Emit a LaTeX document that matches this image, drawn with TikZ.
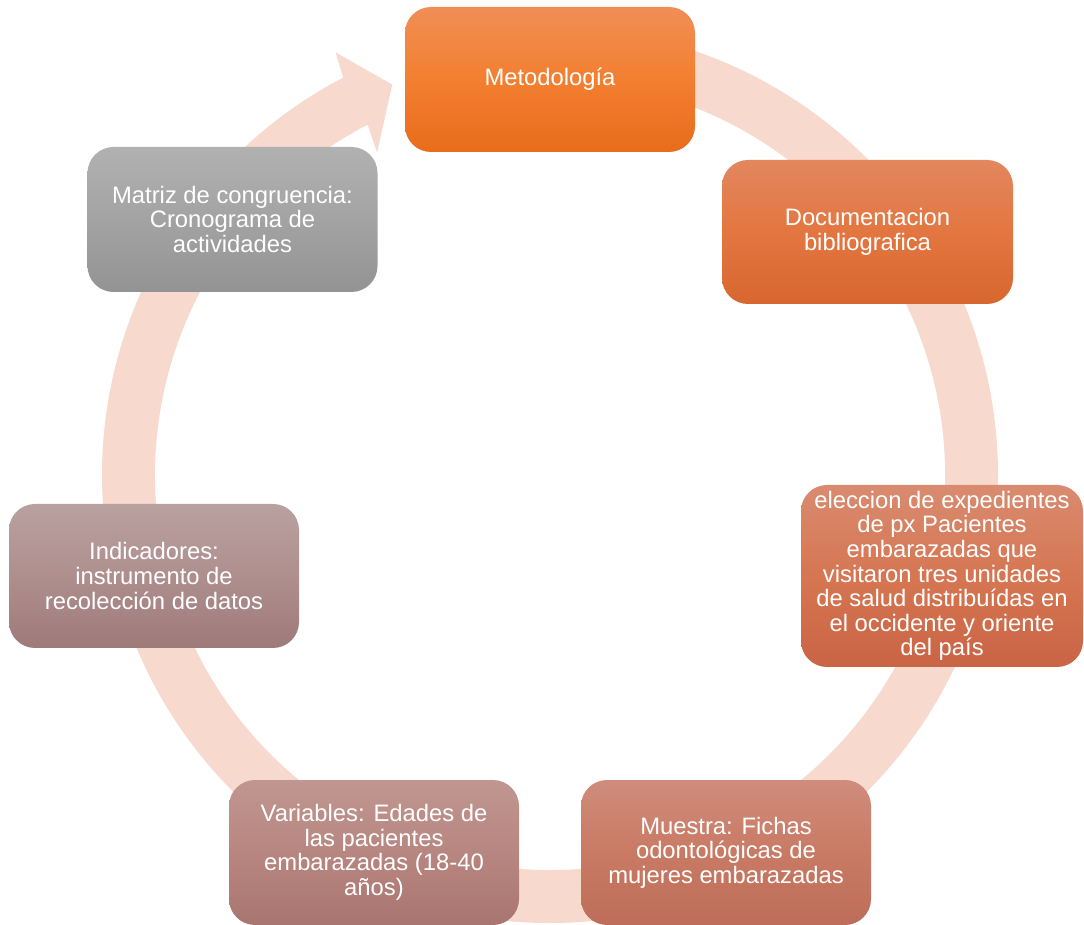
\documentclass[tikz,border=0pt]{standalone}
\usepackage{fontspec}
\setmainfont{Liberation Sans}
\usetikzlibrary{calc}
\definecolor{ringc}{RGB}{248,217,206}
\definecolor{aT}{RGB}{241,142,86}\definecolor{aM}{RGB}{243,127,48}\definecolor{aB}{RGB}{232,108,27}
\definecolor{bT}{RGB}{226,135,95}\definecolor{bM}{RGB}{227,118,64}\definecolor{bB}{RGB}{216,102,47}
\definecolor{cT}{RGB}{217,139,112}\definecolor{cM}{RGB}{214,118,82}\definecolor{cB}{RGB}{201,100,68}
\definecolor{dT}{RGB}{207,140,124}\definecolor{dM}{RGB}{201,122,100}\definecolor{dB}{RGB}{189,109,89}
\definecolor{eT}{RGB}{192,150,145}\definecolor{eM}{RGB}{184,134,128}\definecolor{eB}{RGB}{169,117,112}
\definecolor{fT}{RGB}{185,161,159}\definecolor{fM}{RGB}{174,143,142}\definecolor{fB}{RGB}{158,122,121}
\definecolor{gT}{RGB}{177,177,177}\definecolor{gM}{RGB}{163,163,163}\definecolor{gB}{RGB}{147,147,147}
\begin{document}
\begin{tikzpicture}[x=1pt,y=1pt,
  box/.style={rounded corners=26pt, minimum width=290pt, minimum height=145pt,
    align=center, text=white, inner sep=0pt,
    font=\fontsize{23.8}{24.6}\selectfont},
  shA/.style={top color=aT, bottom color=aB, middle color=aM},
  shB/.style={top color=bT, bottom color=bB, middle color=bM},
  shC/.style={top color=cT, bottom color=cB, middle color=cM},
  shD/.style={top color=dT, bottom color=dB, middle color=dM},
  shE/.style={top color=eT, bottom color=eB, middle color=eM},
  shF/.style={top color=fT, bottom color=fB, middle color=fM},
  shG/.style={top color=gT, bottom color=gB, middle color=gM}]
\useasboundingbox (0,0) rectangle (1084,924);
\coordinate (c) at (550,449);
\fill[ringc] ($(c)+(95:448)$) arc[start angle=95, end angle=-242.5, radius=448]
  -- ($(c)+(116.9:474)$) -- ($(c)+(112:421)$) -- ($(c)+(118.2:366)$)
  -- ($(c)+(117.5:395)$) arc[start angle=-242.5, end angle=95, radius=395] -- cycle;
\node[box, shA] (m1) at (550,844.5) {Metodología};
\node[box, shB, minimum width=291pt, minimum height=144pt] (m2) at (867.5,692) {Documentacion\\bibliografica};
\node[box, shC, minimum width=282pt, minimum height=182pt] (m3) at (942,348) {eleccion de expedientes\\de px Pacientes\\embarazadas que\\visitaron tres unidades\\de salud distribuídas en\\el occidente y oriente\\del país};
\node[box, shD] (m4) at (726,71.5) {Muestra: Fichas\\odontológicas de\\mujeres embarazadas};
\node[box, shE] (m5) at (374,71.5) {Variables: Edades de\\las pacientes\\embarazadas (18-40\\años)};
\node[box, shF, minimum height=144pt] (m6) at (154,348) {Indicadores:\\instrumento de\\recolección de datos};
\node[box, shG] (m7) at (232.5,704.5) {Matriz de congruencia:\\Cronograma de\\actividades};
\end{tikzpicture}
\end{document}
